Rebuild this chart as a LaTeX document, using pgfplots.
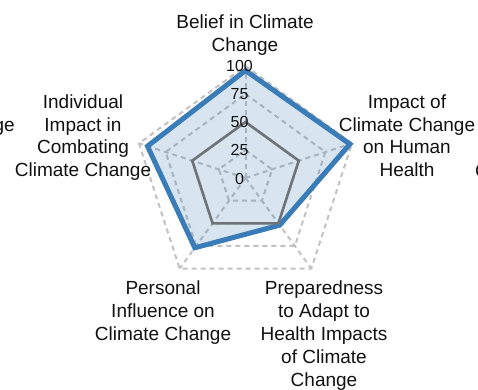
\documentclass[border=0pt]{standalone}
\usepackage{pgfplots}
\pgfplotsset{compat=1.18}
\usepackage{fontspec}
\setmainfont{Liberation Sans}
\definecolor{blueline}{HTML}{3A7CB8}
\definecolor{grayline}{HTML}{6E7378}
\definecolor{gridc}{HTML}{C2C2C2}
\definecolor{txt}{HTML}{111111}
\newcommand\labelfont{\fontsize{19}{22.8}\selectfont}
\newcommand\tickfont{\fontsize{16}{19}\selectfont}
\begin{document}
\begin{tikzpicture}
\useasboundingbox (0pt,0pt) rectangle (478pt,389pt);
\clip (0pt,0pt) rectangle (478pt,389pt);
\begin{axis}[at={(0pt,0pt)}, anchor=south west, x=1.12pt, y=1.12pt,
  xmin=-219.196, xmax=207.589, ymin=-188.393, ymax=158.929, hide axis, clip=false]
% grid rings
\addplot[gridc, line width=2pt, dash pattern=on 5pt off 4pt, data cs=polar] coordinates {(90,25)(18,25)(-54,25)(-126,25)(162,25)(90,25)};
\addplot[gridc, line width=2pt, dash pattern=on 5pt off 4pt, data cs=polar] coordinates {(90,50)(18,50)(-54,50)(-126,50)(162,50)(90,50)};
\addplot[gridc, line width=2pt, dash pattern=on 5pt off 4pt, data cs=polar] coordinates {(90,75)(18,75)(-54,75)(-126,75)(162,75)(90,75)};
\addplot[gridc, line width=2pt, dash pattern=on 5pt off 4pt, data cs=polar] coordinates {(90,100)(18,100)(-54,100)(-126,100)(162,100)(90,100)};
% spokes
\addplot[gridc, line width=2pt, dash pattern=on 5pt off 4pt, data cs=polar] coordinates {(90,0)(90,100)};
\addplot[gridc, line width=2pt, dash pattern=on 5pt off 4pt, data cs=polar] coordinates {(18,0)(18,100)};
\addplot[gridc, line width=2pt, dash pattern=on 5pt off 4pt, data cs=polar] coordinates {(-54,0)(-54,100)};
\addplot[gridc, line width=2pt, dash pattern=on 5pt off 4pt, data cs=polar] coordinates {(-126,0)(-126,100)};
\addplot[gridc, line width=2pt, dash pattern=on 5pt off 4pt, data cs=polar] coordinates {(162,0)(162,100)};
% data series
\addplot[draw=blueline, line width=5pt, fill=blueline, fill opacity=0.2, data cs=polar] coordinates {(90,96)(18,98)(-54,52)(-126,77)(162,92)} -- cycle;
\addplot[draw=grayline, line width=2.6pt, data cs=polar] coordinates {(90,50)(18,50)(-54,50)(-126,50)(162,50)} -- cycle;
\end{axis}
\begin{scope}[shift={(245.5pt,211pt)}]
% radial tick labels
\node[font=\tickfont, text=txt, inner sep=0] at (-6pt,-1pt) {0};
\node[font=\tickfont, text=txt, inner sep=0] at (-6pt,28pt) {25};
\node[font=\tickfont, text=txt, inner sep=0] at (-6pt,56pt) {50};
\node[font=\tickfont, text=txt, inner sep=0] at (-6pt,84pt) {75};
\node[font=\tickfont, text=txt, inner sep=0] at (-6pt,112pt) {100};
% category labels
\node[anchor=north, align=center, inner sep=0, font=\labelfont, text=txt] at (-0.5pt,163.7pt) {Belief in Climate\\Change};
\node[anchor=north, align=center, inner sep=0, font=\labelfont, text=txt] at (161.5pt,83.7pt) {Impact of\\Climate Change\\on Human\\Health};
\node[anchor=north, align=center, inner sep=0, font=\labelfont, text=txt] at (-162.5pt,83.7pt) {Individual\\Impact in\\Combating\\Climate Change};
\node[anchor=north, align=center, inner sep=0, font=\labelfont, text=txt] at (-82.5pt,-103pt) {Personal\\Influence on\\Climate Change};
\node[anchor=north, align=center, inner sep=0, font=\labelfont, text=txt] at (78.5pt,-103pt) {Preparedness\\to Adapt to\\Health Impacts\\of Climate\\Change};
% fragments of neighbouring labels, cut by the edge as in the reference
\node[anchor=base east, inner sep=0, font=\labelfont, text=txt] at (-230.5pt,47pt) {Change};
\node[anchor=base west, inner sep=0, font=\labelfont, text=txt] at (229.5pt,1pt) {Climate};
\end{scope}
\end{tikzpicture}
\end{document}
